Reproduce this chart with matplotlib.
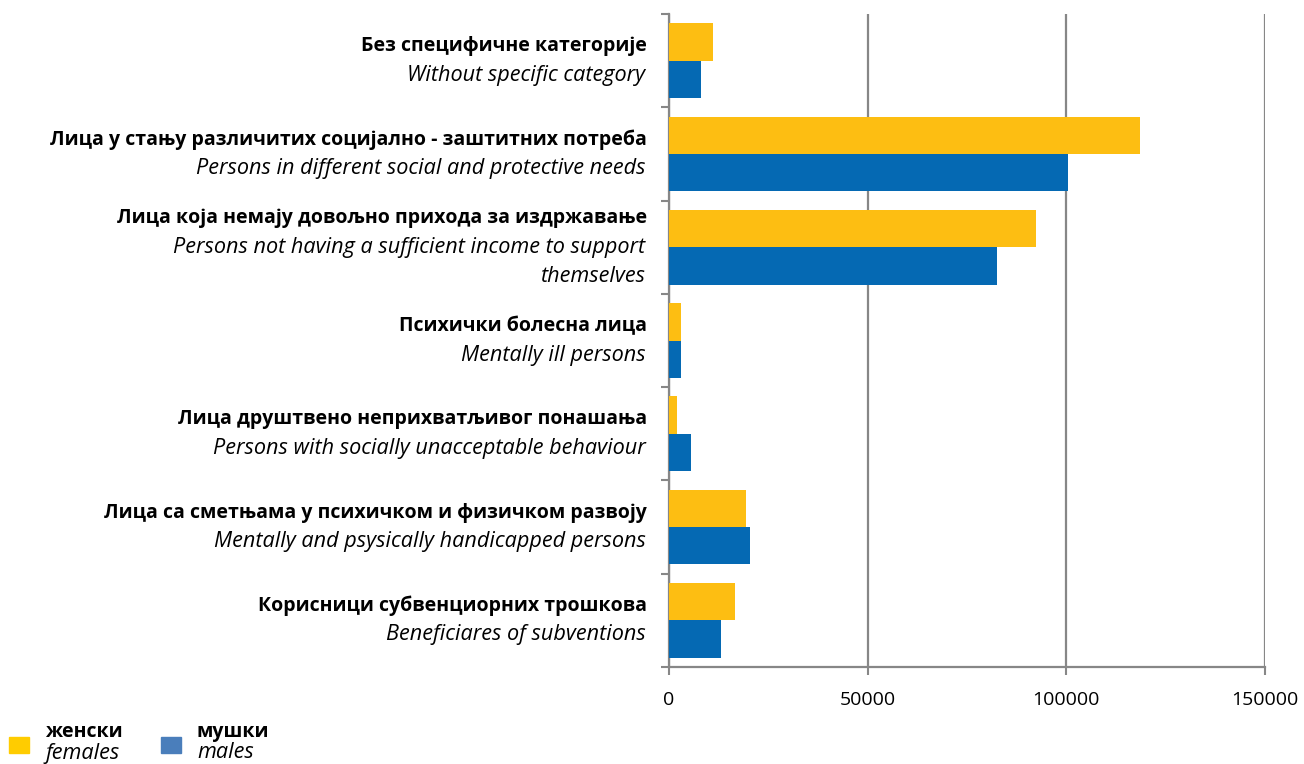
import matplotlib
matplotlib.use("Agg")
import matplotlib.pyplot as plt
import matplotlib.transforms as mtransforms
from matplotlib.patches import Rectangle
import numpy as np

plt.rcParams['font.family'] = ['Open Sans', 'DejaVu Sans']

# categories, top to bottom
labels_sr = [
    "Без специфичне категорије",
    "Лица у стању различитих социјално - заштитних потреба",
    "Лица која немају довољно прихода за издржавање",
    "Психички болесна лица",
    "Лица друштвено неприхватљивог понашања",
    "Лица са сметњама у психичком и физичком развоју",
    "Корисници субвенциорних трошкова",
]
labels_en = [
    "Without specific category",
    "Persons in different social and protective needs",
    "Persons not having a sufficient income to support\nthemselves",
    "Mentally ill persons",
    "Persons with socially unacceptable behaviour",
    "Mentally and psysically handicapped persons",
    "Beneficiares of subventions",
]
females = [11000, 118600, 92300, 3000, 2100, 19300, 16500]
males = [8000, 100500, 82500, 3100, 5600, 20400, 13100]
xticks = [0, 50000, 100000, 150000]

yellow = "#FDBE12"
blue = "#0569B3"
grey = "#878787"
fs_bold = 14
fs_ital = 15.6

fig = plt.figure(figsize=(13.04, 7.64), dpi=100)
ax = fig.add_axes([669 / 1304, 1 - 667 / 764, (1265 - 669) / 1304, (667 - 14) / 764])

y = np.arange(len(labels_sr))
h = 0.4
ax.barh(y - h / 2, females, height=h, color=yellow, zorder=3)
ax.barh(y + h / 2, males, height=h, color=blue, zorder=3)

ax.set_xlim(0, 150000)
ax.set_ylim(len(labels_sr) - 0.5, -0.5)
ax.set_xticks(xticks)
ax.set_xticklabels([str(v) for v in xticks], fontsize=14)
ax.tick_params(axis='x', length=6, width=1.5, color=grey, pad=11)
ax.set_yticks(np.arange(len(labels_sr) + 1) - 0.5)
ax.set_yticklabels([])
ax.tick_params(axis='y', length=6, width=1.5, color=grey)
ax.grid(axis='x', color=grey, linewidth=1.6, zorder=0)
for s in ['top', 'right']:
    ax.spines[s].set_visible(False)
for s in ['left', 'bottom']:
    ax.spines[s].set_color(grey)
    ax.spines[s].set_linewidth(1.6)

trans = mtransforms.blended_transform_factory(ax.transAxes, ax.transData)
line = 29  # px spacing
for i, (sr, en) in enumerate(zip(labels_sr, labels_en)):
    en_lines = en.split("\n")
    n = 1 + len(en_lines)
    top = (n - 1) * line / 2
    ax.annotate(sr, xy=(0, i), xycoords=trans, xytext=(-16, top * 0.72),
                textcoords='offset points', ha='right', va='center',
                fontsize=fs_bold, fontweight='bold')
    for k, t in enumerate(en_lines):
        ax.annotate(t, xy=(0, i), xycoords=trans,
                    xytext=(-17, (top - (k + 1) * line) * 0.72),
                    textcoords='offset points', ha='right', va='center',
                    fontsize=fs_ital, fontstyle='italic')

# legend
for x0, col, t1, t2 in [(9, "#FFCC00", "женски", "females"), (161, "#4A7EBB", "мушки", "males")]:
    fig.patches.append(Rectangle((x0 / 1304, 1 - 753 / 764), 20 / 1304, 16 / 764,
                                 transform=fig.transFigure, color=col))
    fig.text((x0 + 36) / 1304, 1 - 732 / 764, t1, fontsize=fs_bold, fontweight='bold',
             va='center', ha='left')
    fig.text((x0 + 36) / 1304, 1 - 753 / 764, t2, fontsize=fs_ital, fontstyle='italic',
             va='center', ha='left')

fig.savefig("out.png", dpi=100)
